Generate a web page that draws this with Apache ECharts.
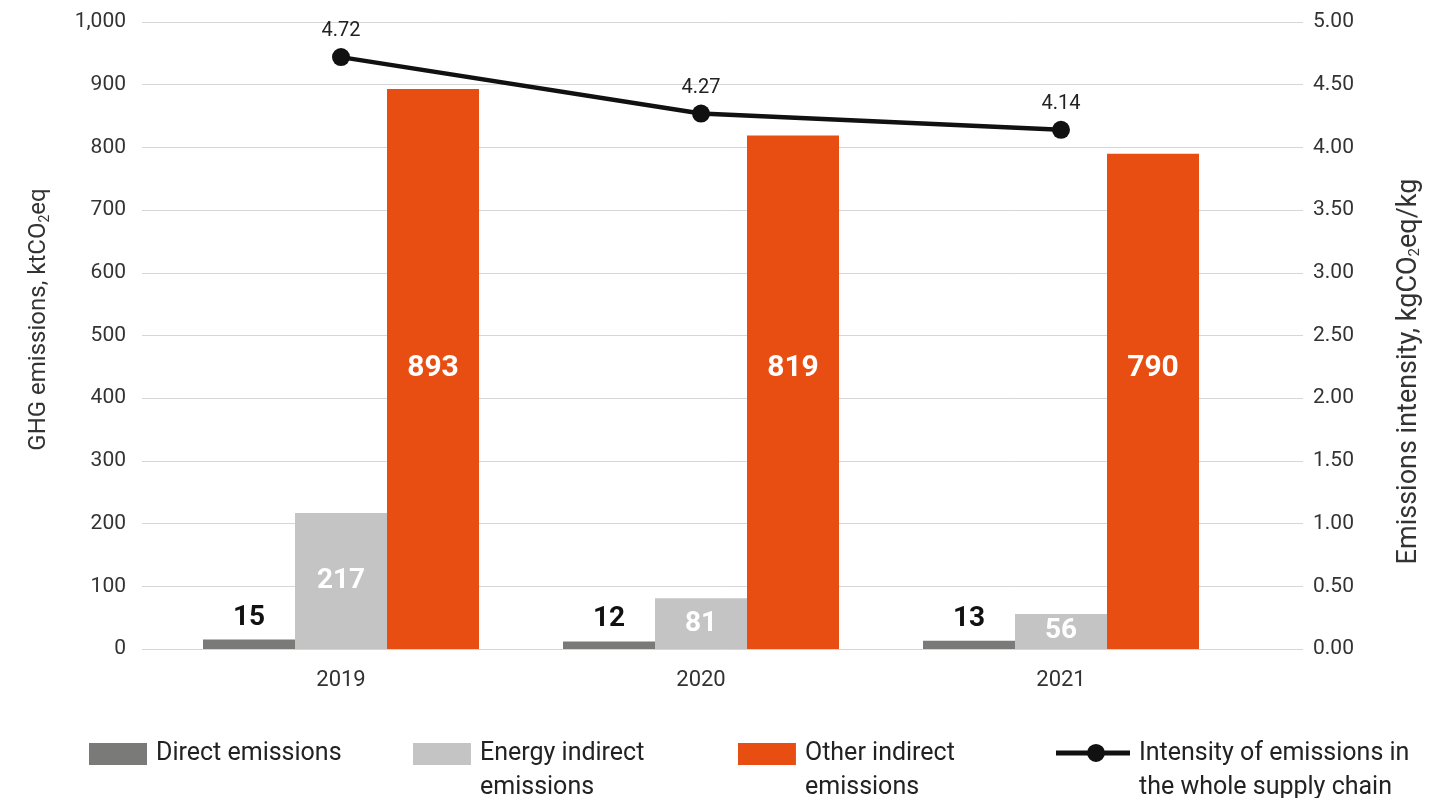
<!DOCTYPE html>
<html><head><meta charset="utf-8">
<script src="https://cdn.jsdelivr.net/npm/echarts@6/dist/echarts.min.js"></script>
<style>html,body{margin:0;padding:0;background:#fff}#c{width:1446px;height:798px}</style>
</head><body><div id="c"></div>
<script>
const categories = ['2019', '2020', '2021'];
const directEmissions = [15, 12, 13];
const energyIndirect = [217, 81, 56];
const otherIndirect = [893, 819, 790];
const intensity = [4.72, 4.27, 4.14];
const seriesNames = ['Direct emissions', 'Energy indirect\nemissions', 'Other indirect\nemissions', 'Intensity of emissions in\nthe whole supply chain'];

const FONT = 'Roboto';
const chart = echarts.init(document.getElementById('c'), null, {renderer: 'canvas'});
// legend icons: box in the top part of a taller frame so the first text line aligns with it
const BOX_ICON_2L = 'path://M0,0h58v22h-58z M0,56h0.05v0.05h-0.05z';
const LINE_ICON_2L = 'path://M0,8.5h74v5h-74z M40,11m-9,0a9,9 0 1,1 18,0a9,9 0 1,1 -18,0z M0,56h0.05v0.05h-0.05z';
function legendAt(left, name, icon, w, h) {
  return {
    left: left, top: 737, padding: 0, data: [{name: name, icon: icon}],
    itemWidth: w, itemHeight: h,
    textStyle: {fontFamily: FONT, fontSize: 25, color: '#222', lineHeight: 34, padding: [0, 0, 0, 4]}
  };
}
chart.setOption({
  animation: false,
  grid: [
    {left: 142, right: 143, top: 22, bottom: 149},
    {left: 161, right: 205, top: 22, bottom: 149}
  ],
  legend: [
    legendAt(89, seriesNames[0], 'rect', 58, 22),
    legendAt(413, seriesNames[1], BOX_ICON_2L, 58, 56),
    legendAt(738, seriesNames[2], BOX_ICON_2L, 58, 56),
    legendAt(1056, seriesNames[3], LINE_ICON_2L, 74, 56)
  ],
  xAxis: [
    {type: 'category', gridIndex: 0, data: categories, show: false},
    {type: 'category', gridIndex: 1, data: categories,
      axisLine: {show: false}, axisTick: {show: false},
      axisLabel: {fontFamily: FONT, fontSize: 22, color: '#333', margin: 20}}
  ],
  yAxis: [
    {type: 'value', gridIndex: 0, position: 'left', min: 0, max: 1000, interval: 100,
      axisLine: {show: false}, axisTick: {show: false},
      splitLine: {lineStyle: {color: '#d6d6d6', width: 1}},
      axisLabel: {fontFamily: FONT, fontSize: 21, color: '#333', margin: 16,
        formatter: v => v.toLocaleString('en-US')},
      name: '{a|GHG emissions, ktCO}{s|2}{a|eq}', nameLocation: 'middle', nameGap: 90, nameRotate: 90,
      nameTextStyle: {padding: [0, 0, 0, 32], rich: {
        a: {fontFamily: FONT, fontSize: 24, color: '#333'},
        s: {fontFamily: FONT, fontSize: 14, color: '#333', padding: [12, 0, 0, 0]}}}},
    {type: 'value', gridIndex: 0, position: 'right', min: 0, max: 5, interval: 0.5,
      axisLine: {show: false}, axisTick: {show: false}, splitLine: {show: false},
      axisLabel: {fontFamily: FONT, fontSize: 21, color: '#333', margin: 10,
        formatter: v => v.toFixed(2)},
      name: '{a|Emissions intensity, kgCO}{s|2}{a|eq/kg}', nameLocation: 'middle', nameGap: 92, nameRotate: 90,
      nameTextStyle: {padding: [0, 72, 0, 0], rich: {
        a: {fontFamily: FONT, fontSize: 27, color: '#333'},
        s: {fontFamily: FONT, fontSize: 15, color: '#333', padding: [13, 0, 0, 0]}}}},
    {type: 'value', gridIndex: 1, min: 0, max: 1000, show: false},
    {type: 'value', gridIndex: 1, min: 0, max: 5, show: false}
  ],
  series: [
    {name: seriesNames[0], type: 'bar', xAxisIndex: 1, yAxisIndex: 2, data: directEmissions,
      barWidth: 92, barGap: '0%', itemStyle: {color: '#7a7a78'},
      label: {show: true, position: 'top', distance: 8, fontFamily: FONT, fontWeight: 'bold',
        fontSize: 28, color: '#111'}},
    {name: seriesNames[1], type: 'bar', xAxisIndex: 1, yAxisIndex: 2, data: energyIndirect,
      barWidth: 92, barGap: '0%', itemStyle: {color: '#c4c4c4'},
      label: {show: true, position: 'inside', fontFamily: FONT, fontWeight: 'bold',
        fontSize: 28, color: '#fff'}},
    {name: seriesNames[2], type: 'bar', xAxisIndex: 1, yAxisIndex: 2, data: otherIndirect,
      barWidth: 92, barGap: '0%', itemStyle: {color: '#e84e12'},
      label: {show: true, position: 'insideBottom', distance: 266, fontFamily: FONT, fontWeight: 'bold',
        fontSize: 30, color: '#fff'}},
    {name: seriesNames[3], type: 'line', xAxisIndex: 1, yAxisIndex: 3, data: intensity, z: 5,
      symbol: 'circle', symbolSize: 18, lineStyle: {color: '#111', width: 4.5},
      itemStyle: {color: '#111'},
      label: {show: true, position: 'top', distance: 7, fontFamily: FONT, fontSize: 20, color: '#222',
        formatter: p => p.value.toFixed(2)}}
  ]
});
</script></body></html>
